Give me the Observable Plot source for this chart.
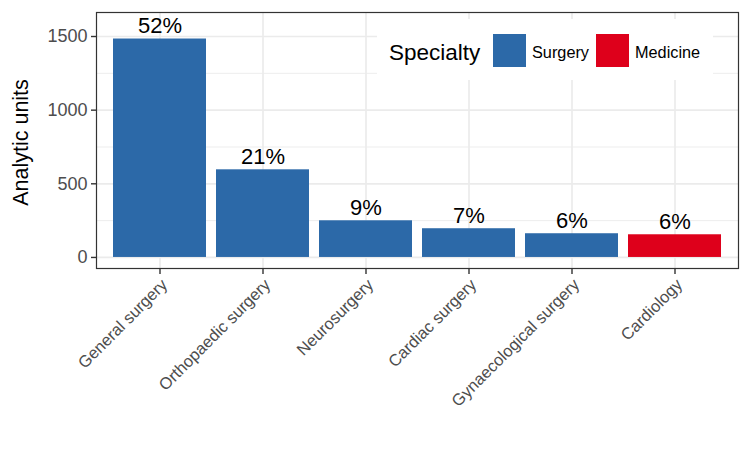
<!DOCTYPE html>
<html>
<head>
<meta charset="utf-8">
<script src="https://cdn.jsdelivr.net/npm/d3@7"></script>
<script src="https://cdn.jsdelivr.net/npm/@observablehq/plot@0.6"></script>
<style>
  html, body { margin: 0; padding: 0; background: #fff; }
  #chart { position: relative; width: 750px; height: 450px; }
  svg { font-family: "Liberation Sans", Arial, Helvetica, sans-serif; }
</style>
</head>
<body>
<div id="chart"></div>
<script>
const categories = ["General surgery", "Orthopaedic surgery", "Neurosurgery", "Cardiac surgery", "Gynaecological surgery", "Cardiology"];
const units = [1483, 595, 249, 195, 161, 154];
const specialty = ["Surgery", "Surgery", "Surgery", "Surgery", "Surgery", "Medicine"];
const pctLabels = ["52%", "21%", "9%", "7%", "6%", "6%"];
const legendKeys = ["Surgery", "Medicine"];
const legendColors = ["#2C69A8", "#DE001B"];
const majorTicks = [0, 500, 1000, 1500];
const minorTicks = [250, 750, 1250];

const data = categories.map((c, i) => ({ name: c, value: units[i], spec: specialty[i], label: pctLabels[i] }));

const font = '"Liberation Sans", Arial, Helvetica, sans-serif';

const plot = Plot.plot({
  width: 750,
  height: 450,
  marginLeft: 96,
  marginRight: 12,
  marginTop: 12,
  marginBottom: 182,
  style: { fontFamily: font, background: "#fff", overflow: "visible" },
  x: { domain: categories, paddingInner: 0.1, paddingOuter: 0.15, label: null },
  y: { domain: [-75, 1663], label: null },
  color: { domain: legendKeys, range: legendColors },
  marks: [
    Plot.gridY(minorTicks, { stroke: "#EBEBEB", strokeOpacity: 1, strokeWidth: 0.9 }),
    Plot.gridY(majorTicks, { stroke: "#EBEBEB", strokeOpacity: 1, strokeWidth: 1.7 }),
    Plot.gridX(categories, { stroke: "#EBEBEB", strokeOpacity: 1, strokeWidth: 1.7 }),
    Plot.barY(data, { x: "name", y: "value", fill: "spec" }),
    Plot.text(data, { x: "name", y: "value", text: "label", dy: -6, lineAnchor: "bottom", fontSize: 22, fill: "#000" }),
    Plot.frame({ stroke: "#333333", strokeWidth: 1.2 }),
    Plot.axisY(majorTicks, { tickSize: 5, tickPadding: 4, tickFormat: "d", fontSize: 18, color: "#4D4D4D", stroke: "#333333", strokeWidth: 1.4, label: null }),
    Plot.axisX({ tickSize: 6, tickPadding: 3, tickRotate: -45, textAnchor: "end", lineAnchor: "top", fontSize: 16.5, color: "#4D4D4D", stroke: "#333333", strokeWidth: 1.4, label: null }),
    Plot.text(["Analytic units"], { frameAnchor: "left", rotate: -90, lineAnchor: "top", textAnchor: "middle", dx: -84, dy: 2, fontSize: 21.5, fill: "#000" })
  ]
});

document.getElementById("chart").appendChild(plot);

// Legend drawn inside the panel (top right), like the reference
const color = plot.scale("color");
const svg = d3.select(plot);
const lg = svg.append("g").attr("font-family", font).attr("text-anchor", "start");
lg.append("rect").attr("x", 377).attr("y", 19).attr("width", 336).attr("height", 61).attr("fill", "#fff");
lg.append("text").attr("x", 389).attr("y", 59.5).attr("font-size", 22.5).attr("fill", "#000").text("Specialty");
const keyX = [493, 596];
color.domain.forEach((k, i) => {
  lg.append("rect").attr("x", keyX[i]).attr("y", 34).attr("width", 33).attr("height", 33).attr("fill", color.apply(k));
  lg.append("text").attr("x", keyX[i] + 39).attr("y", 57.5).attr("font-size", 16.3).attr("fill", "#000").text(k);
});
</script>
</body>
</html>
